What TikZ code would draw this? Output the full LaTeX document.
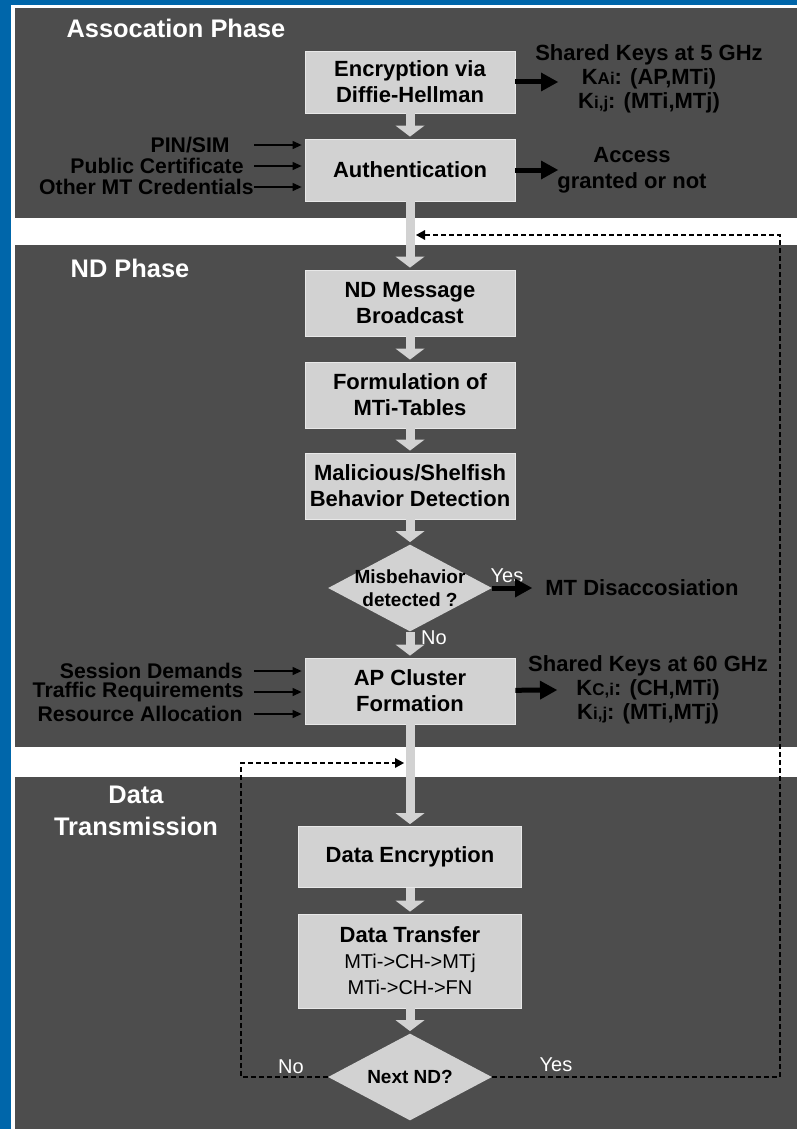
\documentclass[tikz,border=0pt]{standalone}
\usepackage{fontspec}
\setmainfont{Liberation Sans}
\usetikzlibrary{arrows.meta,shapes.geometric}

\definecolor{bgblue}{RGB}{0,102,170}
\definecolor{panel}{RGB}{77,77,77}
\definecolor{boxgray}{RGB}{210,210,210}
\newcommand{\kidx}[1]{{\fontsize{8.5}{8.5}\selectfont #1}}

\begin{document}
\begin{tikzpicture}[
  x=0.5pt, y=-0.5pt,
  box/.style={rectangle, fill=boxgray, draw=boxgray!50!white, line width=0.4pt,
              minimum width=105pt, minimum height=31pt, inner sep=1pt, align=center,
              font=\bfseries\fontsize{11}{13}\selectfont},
  dia/.style={diamond, fill=boxgray, inner sep=0pt, minimum width=82pt, minimum height=43.5pt},
  dtxt/.style={align=center, inner sep=0pt, font=\bfseries\fontsize{9.5}{11.5}\selectfont},
  phase/.style={align=center, text=white, font=\bfseries\fontsize{12.7}{16}\selectfont},
  side/.style={align=center, inner sep=0pt, font=\bfseries\fontsize{11}{12}\selectfont},
  inlbl/.style={side, anchor=east, font=\bfseries\fontsize{10.6}{11}\selectfont},
  yn/.style={text=white, inner sep=0pt, font=\fontsize{10}{12}\selectfont},
  flow/.style={draw=boxgray, line width=4.5pt, shorten >=1pt,
               -{Triangle[width=14.5pt,length=5.5pt,line width=0pt]}},
  res/.style={draw=black, line width=2.5pt, -{Triangle[width=9.5pt,length=8.5pt,line width=0pt]}},
  inp/.style={draw=black, line width=0.6pt, shorten >=1.5pt, -{Triangle[width=4pt,length=4.5pt]}},
  back/.style={draw=black, line width=1pt, dash pattern=on 2.5pt off 1.5pt, shorten >=3pt,
               -{Triangle[width=5pt,length=4.5pt,line width=0pt]}}
]
% background and phase panels
\fill[bgblue] (0,0) rectangle (797,1129);
\fill[white] (11,5) rectangle (797,1129);
\fill[panel] (15,8) rectangle (797,218);
\fill[panel] (15,245) rectangle (797,747);
\fill[panel] (15,777) rectangle (797,1129);

\node[phase] (pa) at (176,28) {Assocation Phase};
\node[phase] (pn) at (130,268) {ND Phase};
\node[phase] (pd) at (136,811) {Data\\Transmission};

% main flow
\node[box] (enc)  at (410,82)  {Encryption via\\Diffie-Hellman};
\node[box] (auth) at (410,170) {Authentication};
\node[box, minimum height=33pt] (ndm)  at (410,303) {ND Message\\Broadcast};
\node[box, minimum height=33pt] (form) at (410,395) {Formulation of\\MTi-Tables};
\node[box, minimum height=33pt] (mal)  at (410,486) {Malicious/Shelfish\\Behavior Detection};
\node[dia] (mis) at (410,588) {};
\node[dtxt] (mist) at (mis) {Misbehavior\\detected ?};
\node[box, minimum height=33pt] (apc)  at (410,691) {AP Cluster\\Formation};
\node[box, minimum width=111.5pt, minimum height=30.5pt] (denc) at (410,857) {Data Encryption};
\node[box, minimum width=111.5pt, minimum height=47pt] (dtr) at (410,961)
  {Data Transfer\\{\mdseries\fontsize{10}{13}\selectfont MTi->CH->MTj}\\{\mdseries\fontsize{10}{13}\selectfont MTi->CH->FN}};
\node[dia] (nxt) at (410,1077) {};
\node[dtxt] (nxtt) at (nxt) {Next ND?};

% results on the right
\node[side] (k5)  at (649,79)  {Shared Keys at 5 GHz\\K\kidx{Ai}: (AP,MTi)\\K\kidx{i,j}: (MTi,MTj)};
\node[side, font=\bfseries\fontsize{11}{13}\selectfont] (acc) at (632,170) {Access\\granted or not};
\node[side, anchor=west] (dis) at (545,588) {MT Disaccosiation};
\node[side] (k60) at (648,690) {Shared Keys at 60 GHz\\K\kidx{C,i}: (CH,MTi)\\K\kidx{i,j}: (MTi,MTj)};

% inputs on the left
\node[inlbl] (pin) at (230,145) {PIN/SIM};
\node[inlbl] (pub) at (244,166) {Public Certificate};
\node[inlbl] (oth) at (254,187) {Other MT Credentials};
\node[inlbl] (ses) at (243,671) {Session Demands};
\node[inlbl] (tra) at (244,692) {Traffic Requirements};
\node[inlbl] (rsc) at (243,714) {Resource Allocation};

\node[yn] (y1) at (507,576)  {Yes};
\node[yn] (n1) at (434,638)  {No};
\node[yn] (n2) at (291,1067) {No};
\node[yn] (y2) at (556,1065) {Yes};

\coordinate (lin)   at (254,0);
\coordinate (k5in)  at (558,82);
\coordinate (accin) at (558,170);
\coordinate (disin) at (532,588);
\coordinate (k60in) at (557,690);
\coordinate (ytop)  at (780,235);
\coordinate (ntop)  at (241,763);

% connectors
\draw[flow] (enc) -- (auth);
\draw[flow] (auth) -- (ndm);
\draw[flow] (ndm) -- (form);
\draw[flow] (form) -- (mal);
\draw[flow] (mal) -- (mis);
\draw[flow] (mis) -- (apc);
\draw[flow] (apc) -- (denc);
\draw[flow] (denc) -- (dtr);
\draw[flow] (dtr) -- (nxt);

\draw[res] (enc) -- (k5in);
\draw[res] (auth) -- (accin);
\draw[res] (mis) -- (disin);
\draw[res] (apc) -- (k60in);

\foreach \n in {pin,pub,oth} \draw[inp] (\n.east -| lin) -- (\n.east -| auth.west);
\foreach \n in {ses,tra,rsc} \draw[inp] (\n.east -| lin) -- (\n.east -| apc.west);

\draw[back] (nxt.east) -| (ytop) -- (auth.south |- ytop);
\draw[back] (nxt.west) -| (ntop) -- (apc.south |- ntop);
\end{tikzpicture}
\end{document}
